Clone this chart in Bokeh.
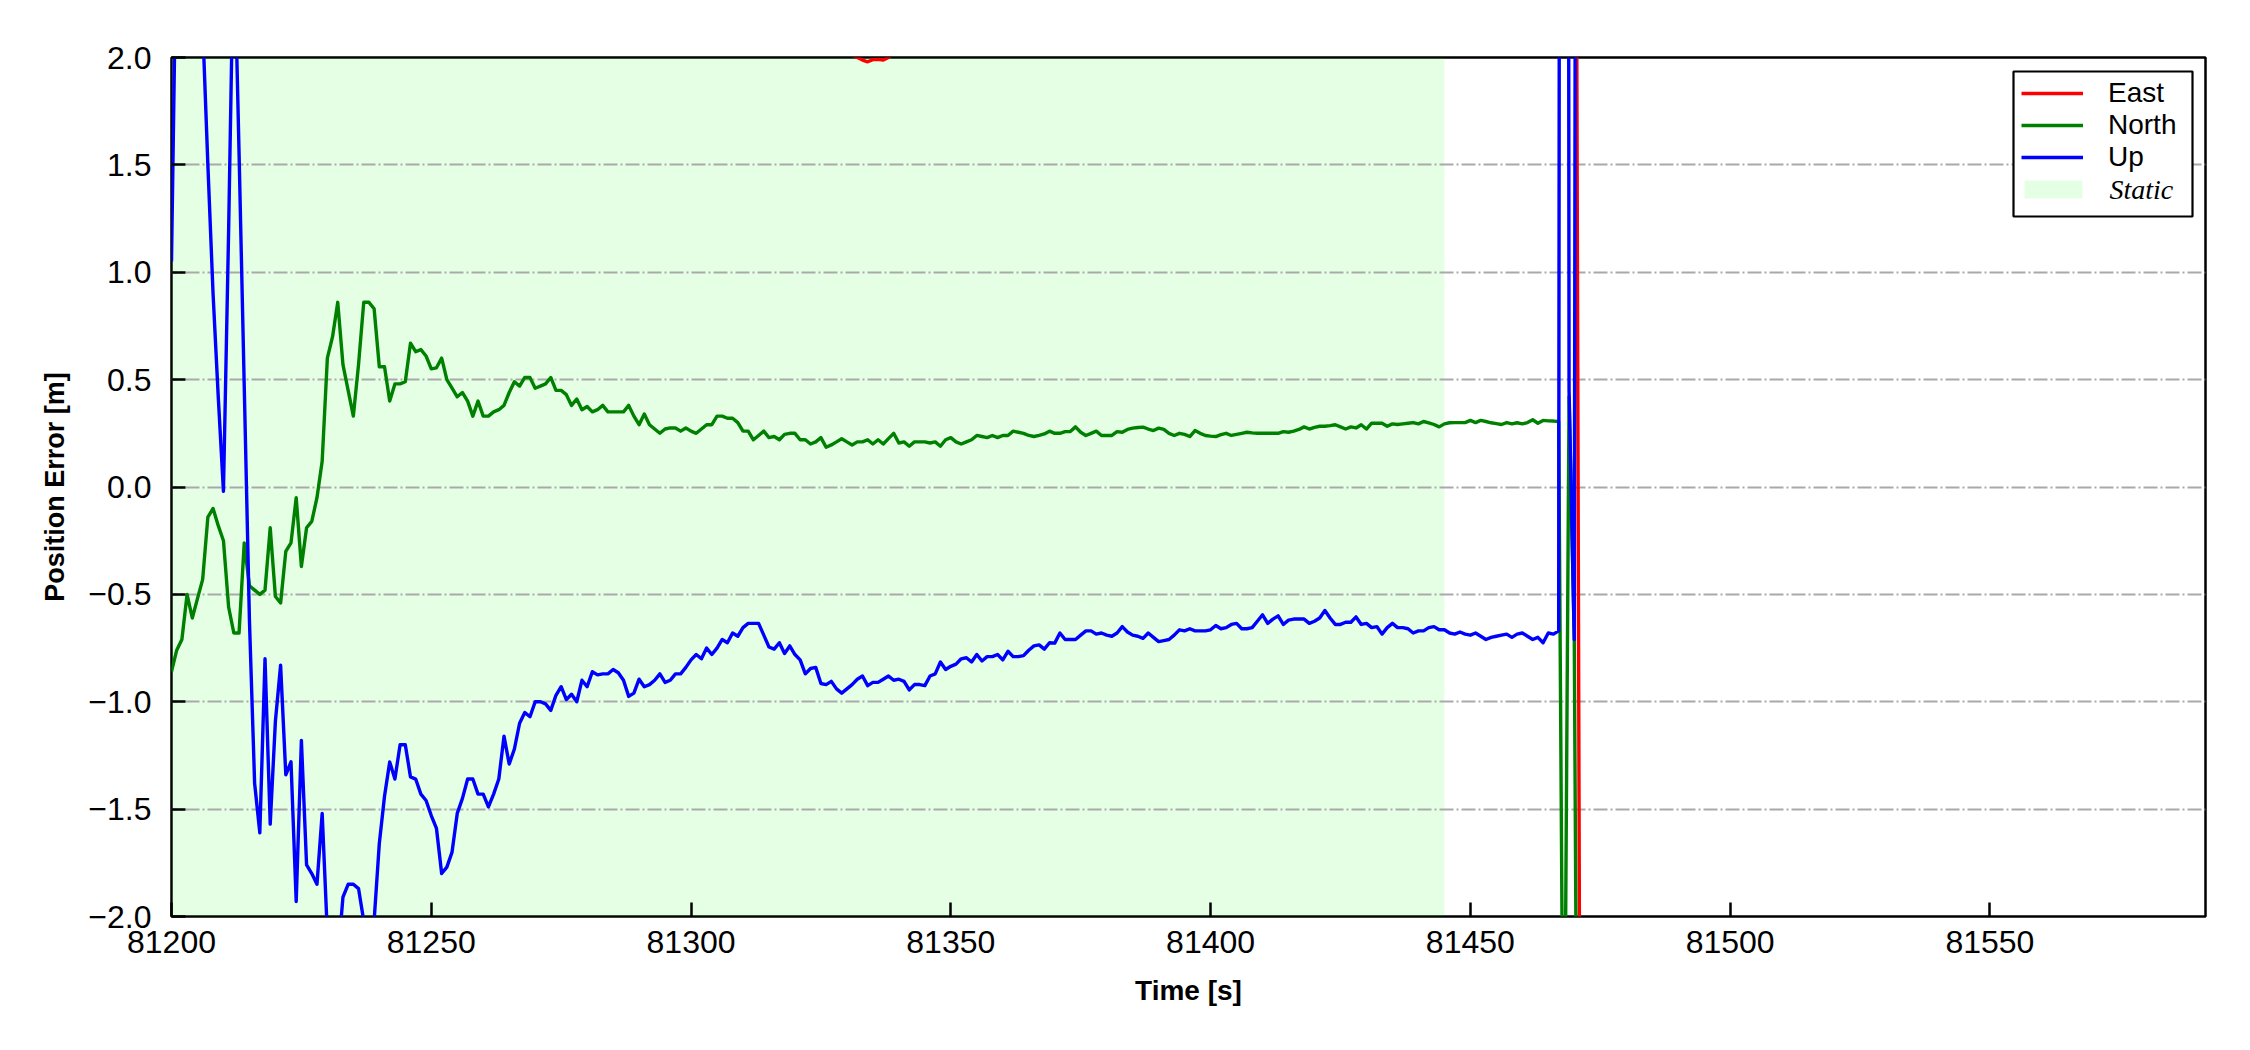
from bokeh.plotting import figure
from bokeh.models import Range1d, FixedTicker, CustomJSTickFormatter, Legend, LegendItem, Label
from bokeh.embed import file_html
from bokeh.resources import INLINE

# ---------------- data ----------------
t0 = 81200  # first epoch [s], 1 Hz solution
north_err = [
    -0.86, -0.76, -0.71, -0.50, -0.61, -0.52, -0.43, -0.14, -0.10, -0.18,
    -0.25, -0.56, -0.68, -0.68, -0.26, -0.46, -0.48, -0.50, -0.48, -0.19,
    -0.51, -0.54, -0.30, -0.26, -0.05, -0.37, -0.19, -0.16, -0.05, 0.12,
    0.60, 0.70, 0.86, 0.57, 0.45, 0.33, 0.57, 0.86, 0.86, 0.83,
    0.56, 0.56, 0.40, 0.48, 0.48, 0.49, 0.67, 0.63, 0.64, 0.61,
    0.55, 0.555, 0.60, 0.50, 0.46, 0.42, 0.44, 0.40, 0.33, 0.40,
    0.33, 0.33, 0.35, 0.36, 0.38, 0.44, 0.49, 0.47, 0.51, 0.51,
    0.46, 0.47, 0.48, 0.51, 0.45, 0.45, 0.43, 0.38, 0.41, 0.36,
    0.375, 0.35, 0.36, 0.38, 0.35, 0.35, 0.35, 0.35, 0.38, 0.33,
    0.29, 0.34, 0.29, 0.27, 0.25, 0.27, 0.275, 0.275, 0.26, 0.275,
    0.26, 0.25, 0.27, 0.29, 0.29, 0.33, 0.33, 0.32, 0.32, 0.30,
    0.26, 0.26, 0.22, 0.24, 0.26, 0.23, 0.235, 0.22, 0.245, 0.25,
    0.25, 0.22, 0.22, 0.20, 0.21, 0.23, 0.185, 0.196, 0.21, 0.225,
    0.21, 0.196, 0.21, 0.21, 0.22, 0.20, 0.22, 0.20, 0.225, 0.25,
    0.205, 0.21, 0.19, 0.21, 0.21, 0.21, 0.205, 0.21, 0.19, 0.22,
    0.23, 0.21, 0.20, 0.21, 0.22, 0.24, 0.235, 0.23, 0.24, 0.23,
    0.24, 0.24, 0.26, 0.255, 0.25, 0.24, 0.235, 0.24, 0.247, 0.26,
    0.25, 0.25, 0.258, 0.258, 0.28, 0.255, 0.24, 0.25, 0.26, 0.24,
    0.24, 0.24, 0.258, 0.255, 0.268, 0.274, 0.277, 0.279, 0.27, 0.263,
    0.274, 0.268, 0.25, 0.24, 0.25, 0.245, 0.235, 0.263, 0.25, 0.24,
    0.237, 0.235, 0.244, 0.25, 0.24, 0.245, 0.25, 0.255, 0.252, 0.25,
    0.25, 0.25, 0.25, 0.25, 0.258, 0.255, 0.26, 0.268, 0.28, 0.27,
    0.278, 0.283, 0.283, 0.286, 0.29, 0.28, 0.27, 0.28, 0.275, 0.29,
    0.27, 0.297, 0.297, 0.297, 0.283, 0.294, 0.291, 0.294, 0.297, 0.30,
    0.294, 0.305, 0.299, 0.291, 0.28, 0.294, 0.299, 0.30, 0.30, 0.30,
    0.31, 0.30, 0.31, 0.305, 0.299, 0.295, 0.291, 0.30, 0.294, 0.299,
    0.294, 0.30, 0.313, 0.297, 0.31, 0.308, 0.307, 0.305,
    -3.3, 0.42, -0.70, -4.9,
]
up_err = [
    1.05, 2.7, 3.2, 3.0, 2.8, 2.6, 2.15, 1.5, 0.9, 0.42,
    -0.02, 1.2, 2.6, 1.56, 0.47, -0.62, -1.38, -1.61, -0.80, -1.57,
    -1.09, -0.83, -1.34, -1.28, -1.93, -1.18, -1.76, -1.80, -1.85, -1.52,
    -2.08, -2.4, -2.2, -1.91, -1.85, -1.85, -1.87, -2.02, -2.3, -2.02,
    -1.66, -1.44, -1.28, -1.36, -1.20, -1.20, -1.35, -1.36, -1.43, -1.46,
    -1.53, -1.59, -1.80, -1.77, -1.70, -1.52, -1.45, -1.36, -1.36, -1.43,
    -1.43, -1.49, -1.43, -1.36, -1.16, -1.29, -1.22, -1.10, -1.05, -1.07,
    -1.00, -1.00, -1.01, -1.04, -0.97, -0.93, -0.99, -0.965, -1.00, -0.90,
    -0.93, -0.86, -0.875, -0.87, -0.87, -0.85, -0.865, -0.90, -0.975, -0.96,
    -0.895, -0.93, -0.92, -0.90, -0.87, -0.91, -0.90, -0.87, -0.87, -0.84,
    -0.805, -0.78, -0.80, -0.75, -0.78, -0.75, -0.71, -0.725, -0.68, -0.695,
    -0.655, -0.635, -0.635, -0.635, -0.69, -0.745, -0.755, -0.725, -0.775, -0.74,
    -0.78, -0.805, -0.87, -0.845, -0.84, -0.915, -0.92, -0.905, -0.94, -0.96,
    -0.94, -0.92, -0.895, -0.88, -0.925, -0.91, -0.91, -0.895, -0.88, -0.90,
    -0.895, -0.905, -0.945, -0.92, -0.92, -0.925, -0.88, -0.87, -0.815, -0.85,
    -0.835, -0.825, -0.80, -0.795, -0.815, -0.78, -0.81, -0.79, -0.79, -0.78,
    -0.805, -0.765, -0.79, -0.79, -0.785, -0.76, -0.74, -0.735, -0.755, -0.725,
    -0.727, -0.68, -0.71, -0.71, -0.71, -0.69, -0.67, -0.67, -0.685, -0.68,
    -0.69, -0.695, -0.68, -0.65, -0.675, -0.69, -0.695, -0.705, -0.68, -0.70,
    -0.72, -0.715, -0.71, -0.69, -0.665, -0.67, -0.66, -0.67, -0.67, -0.67,
    -0.665, -0.645, -0.66, -0.655, -0.64, -0.635, -0.66, -0.66, -0.655, -0.625,
    -0.595, -0.635, -0.615, -0.60, -0.64, -0.62, -0.615, -0.615, -0.615, -0.635,
    -0.625, -0.61, -0.575, -0.61, -0.64, -0.64, -0.63, -0.63, -0.605, -0.64,
    -0.635, -0.655, -0.65, -0.685, -0.655, -0.635, -0.655, -0.655, -0.66, -0.68,
    -0.67, -0.67, -0.655, -0.65, -0.665, -0.665, -0.68, -0.685, -0.675, -0.685,
    -0.69, -0.68, -0.695, -0.71, -0.70, -0.695, -0.69, -0.685, -0.70, -0.685,
    -0.68, -0.695, -0.71, -0.70, -0.725, -0.68, -0.685, -0.67,
    25.0, 0.45, -0.71, 16.0,
]
epoch = [t0 + i for i in range(len(north_err))]

east_time = [81200, 81205, 81210, 81220, 81240, 81260, 81280, 81300, 81315, 81325,
             81330, 81331, 81332, 81333, 81334, 81335, 81336, 81337, 81338, 81339,
             81345, 81370, 81400, 81430, 81460, 81469, 81470, 81471]
east_err = [5.0, 4.2, 3.6, 3.0, 2.6, 2.4, 2.3, 2.2, 2.12, 2.06,
            2.03, 2.01, 2.0, 1.988, 1.98, 1.99, 1.992, 1.988, 2.0, 2.02,
            2.06, 2.12, 2.15, 2.18, 2.2, 2.25, 6.0, -2.1]

static_start = 81200
static_end = 81445

x_ticks = [81200, 81250, 81300, 81350, 81400, 81450, 81500, 81550]
y_ticks = [-2.0, -1.5, -1.0, -0.5, 0.0, 0.5, 1.0, 1.5, 2.0]
series_names = ["East", "North", "Up"]
series_colors = ["#ff0000", "#008000", "#0000ff"]
static_name = "Static"
x_label = "Time [s]"
y_label = "Position Error [m]"

# ---------------- figure ----------------
FONT = "Liberation Sans"
W, H = 2234, 1034
FL, FR, FT, FB = 171, 2205, 57, 916          # frame edges on the canvas
XMIN, XMAX = 81200, 81591.5
p = figure(width=W, height=H, output_backend="svg", toolbar_location=None,
           x_range=Range1d(XMIN, XMAX), y_range=Range1d(-2.0, 2.0),
           min_border_left=FL, min_border_right=W - FR, min_border_top=FT,
           min_border_bottom=H - FB)
p.background_fill_color = "white"
p.border_fill_color = "white"
p.outline_line_color = "black"
p.outline_line_width = 2.5

STATIC_FILL = "#00ff00"
r_static = p.quad(left=[static_start], right=[static_end], bottom=[y_ticks[0]],
                  top=[y_ticks[-1]], fill_color=STATIC_FILL, fill_alpha=0.1,
                  line_color=None, level="image")

lw = 3.4
r_e = p.line(east_time, east_err, line_color=series_colors[0], line_width=lw, line_join="round")
r_n = p.line(epoch, north_err, line_color=series_colors[1], line_width=lw, line_join="round")
r_u = p.line(epoch, up_err, line_color=series_colors[2], line_width=lw, line_join="round")

# axes
p.xaxis.ticker = FixedTicker(ticks=x_ticks)
p.yaxis.ticker = FixedTicker(ticks=y_ticks)
p.xaxis.formatter = CustomJSTickFormatter(code="return tick.toFixed(0);")
p.yaxis.formatter = CustomJSTickFormatter(
    code="const s = Math.abs(tick).toFixed(1); return tick < -1e-9 ? '\u2212' + s : s;")
for ax in (p.xaxis[0], p.yaxis[0]):
    ax.axis_line_color = None
    ax.major_tick_in = 14
    ax.major_tick_out = 0
    ax.major_tick_line_width = 2.5
    ax.major_tick_line_color = "black"
    ax.minor_tick_line_color = None
    ax.major_label_text_font = FONT
    ax.major_label_text_font_size = "32px"
    ax.major_label_text_color = "black"
    ax.axis_label_text_font = FONT
    ax.axis_label_text_font_style = "bold"
    ax.axis_label_text_color = "black"
p.xaxis.axis_label_text_font_size = "28px"
p.yaxis.axis_label_text_font_size = "27px"
p.xaxis.axis_label = x_label
p.yaxis.axis_label = y_label
p.xaxis.major_label_standoff = 14
p.yaxis.major_label_standoff = 20
p.xaxis.axis_label_standoff = 19
p.yaxis.axis_label_standoff = 15

# grid
p.xgrid.grid_line_color = None
p.ygrid.ticker = FixedTicker(ticks=y_ticks)
p.ygrid.grid_line_color = "#a9a9a9"
p.ygrid.grid_line_width = 2.2
p.ygrid.grid_line_dash = "14 3 2 3"
p.ygrid.grid_line_dash_offset = 8

# ---------------- legend ----------------
px_per_s = (FR - FL) / (XMAX - XMIN)
px_per_m = (FB - FT) / 4.0
def sx2data(sx):
    return XMIN + (sx - FL) / px_per_s
def sy2data(sy):
    return 2.0 - (sy - FT) / px_per_m

BOX_L, BOX_R, BOX_T, BOX_B = 2013, 2192, 71, 216   # legend box in canvas pixels
PAD, ROW, GW, STANDOFF = 9, 32, 62, 25

# opaque white legend frame (drawn as a glyph so the entries can sit on top of it)
p.quad(left=[sx2data(BOX_L)], right=[sx2data(BOX_R)], bottom=[sy2data(BOX_B)],
       top=[sy2data(BOX_T)], fill_color="white", fill_alpha=1.0,
       line_color="black", line_width=2.2)
row4_center = 189
p.quad(left=[sx2data(BOX_L + PAD + 2)], right=[sx2data(BOX_L + PAD + GW - 2)],
       bottom=[sy2data(row4_center + 9)], top=[sy2data(row4_center - 9)],
       fill_color=STATIC_FILL, fill_alpha=0.1, line_color=None)

r_dummy = p.quad(left=[], right=[], bottom=[], top=[], fill_alpha=0, line_alpha=0)
legend = Legend(items=[LegendItem(label=series_names[0], renderers=[r_e]),
                       LegendItem(label=series_names[1], renderers=[r_n]),
                       LegendItem(label=series_names[2], renderers=[r_u]),
                       LegendItem(label=" ", renderers=[r_dummy])],
                location=(BOX_L - FL + 8, FB - BOX_B + 11), margin=0, padding=PAD, spacing=0,
                glyph_width=GW, glyph_height=ROW, label_height=ROW, label_standoff=STANDOFF,
                label_text_font=FONT, label_text_font_size="28px",
                label_text_color="black",
                border_line_color=None, background_fill_alpha=0.0)
p.add_layout(legend)
p.add_layout(Label(x=sx2data(BOX_L + PAD + GW + STANDOFF), y=sy2data(row4_center),
                   text=static_name, text_font="Liberation Serif",
                   text_font_style="italic", text_font_size="28px",
                   text_baseline="middle", text_align="left", text_color="black"))

open("out.html", "w").write(file_html(p, INLINE))
